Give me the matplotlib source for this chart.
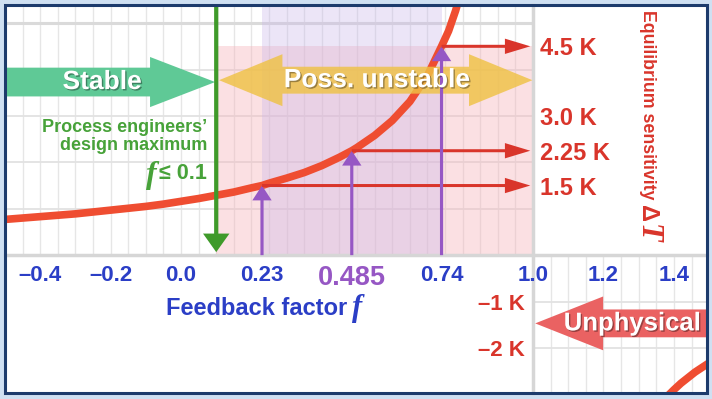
import numpy as np
import matplotlib.pyplot as plt
import matplotlib.patheffects as pe
from matplotlib.patches import Rectangle, Polygon, FancyArrow

# equilibrium sensitivity curve (f, K)
f_curve = [-0.50, -0.45, -0.40, -0.35, -0.30, -0.25, -0.20, -0.15, -0.10, -0.05,
           0.00, 0.05, 0.10, 0.15, 0.20, 0.23, 0.25, 0.30, 0.35, 0.40, 0.45,
           0.485, 0.50, 0.55, 0.60, 0.65, 0.70, 0.74, 0.76, 0.78, 0.80]
dT_curve = [0.77, 0.80, 0.83, 0.86, 0.89, 0.93, 0.97, 1.01, 1.05, 1.10,
            1.16, 1.22, 1.29, 1.36, 1.45, 1.50, 1.55, 1.66, 1.78, 1.93, 2.11,
            2.25, 2.32, 2.58, 2.90, 3.31, 3.87, 4.50, 4.83, 5.27, 5.80]
# the other branch, f > 1
f_neg = [1.36, 1.38, 1.40, 1.42, 1.44, 1.46, 1.48, 1.50]
dT_neg = [-3.22, -3.05, -2.90, -2.76, -2.64, -2.52, -2.42, -2.32]

# marked points
f_marks = [0.23, 0.485, 0.74]
dT_marks = [1.5, 2.25, 4.5]
f_design = 0.1

x_ticks = [-0.4, -0.2, 0.0, 0.23, 0.485, 0.74, 1.0, 1.2, 1.4]
x_labels = ['–0.4', '–0.2', '0.0', '0.23', '0.485', '0.74', '1.0', '1.2', '1.4']
y_right_ticks = [1.5, 2.25, 3.0, 4.5]
y_right_labels = ['1.5 K', '2.25 K', '3.0 K', '4.5 K']
y_left_ticks = [-2, -1]
y_left_labels = ['–2 K', '–1 K']

plt.rcParams['font.family'] = ['Liberation Sans', 'DejaVu Sans']
plt.rcParams['font.weight'] = 'bold'

BLUE = '#2b3ec6'
RED = '#d9352b'
GREEN = '#47a239'
PURPLE = '#9657c4'
CURVE = '#ef4d31'

XL, XR = -0.5, 1.494
YB, YT = -2.97, 5.39

fig = plt.figure(figsize=(7.12, 3.99), dpi=100, facecolor='#cfe0f2')
ax = fig.add_axes([5 / 712, 6 / 399, 702 / 712, 388 / 399])
ax.set_xlim(XL, XR)
ax.set_ylim(YB, YT)
ax.set_facecolor('white')

# grid only in the upper-left and lower-right quadrants
ax.vlines(np.arange(-0.45, 0.99, 0.05), 0, YT, color='#e6e6e6', lw=1, zorder=0)
ax.vlines(np.arange(1.05, 1.49, 0.05), YB, 0, color='#e6e6e6', lw=1, zorder=0)
ax.hlines([1, 2, 3, 4], XL, 1.0, color='#e2e2e2', lw=1.3, zorder=0)
ax.hlines([5], XL, 1.0, color='#dadada', lw=2.2, zorder=0)
ax.hlines([-1, -2], 1.0, XR, color='#e2e2e2', lw=1.3, zorder=0)

# axes lines through the origin of the drawing
for s in ['top', 'right']:
    ax.spines[s].set_visible(False)
ax.spines['bottom'].set_position(('data', 0))
ax.spines['left'].set_position(('data', 1.0))
for s in ['bottom', 'left']:
    ax.spines[s].set_color('#d6d6d6')
    ax.spines[s].set_linewidth(2.5)
    ax.spines[s].set_zorder(1)

# shaded ranges
ax.add_patch(Rectangle((f_design, 0), 1.0 - f_design, dT_marks[2],
                       facecolor='#f6b3bb', alpha=0.4, lw=0, zorder=1))
ax.add_patch(Rectangle((f_marks[0], 0), f_marks[2] - f_marks[0], YT,
                       facecolor='#c9b6ea', alpha=0.35, lw=0, zorder=1))

# curve
ax.plot(f_curve, dT_curve, color=CURVE, lw=5.5, solid_capstyle='butt', zorder=3)
ax.plot(f_neg, dT_neg, color=CURVE, lw=5.5, solid_capstyle='butt', zorder=3)


def fat_arrow(x_tail, x_tip, yc, body, head, head_len, double=False, **kw):
    d = np.sign(x_tip - x_tail)
    hb = x_tip - d * head_len
    if double:
        tb = x_tail + d * head_len
        pts = [(x_tail, yc), (tb, yc + head), (tb, yc + body), (hb, yc + body),
               (hb, yc + head), (x_tip, yc), (hb, yc - head), (hb, yc - body),
               (tb, yc - body), (tb, yc - head)]
    else:
        pts = [(x_tail, yc + body), (hb, yc + body), (hb, yc + head), (x_tip, yc),
               (hb, yc - head), (hb, yc - body), (x_tail, yc - body)]
    return Polygon(pts, closed=True, lw=0, **kw)


shadow = [pe.withSimplePatchShadow(offset=(1, -1), shadow_rgbFace='k', alpha=0.35)]

ax.add_patch(fat_arrow(XL, f_design - 0.003, 3.73, 0.31, 0.54, 0.185,
                       facecolor='#5fc996', zorder=4))
ax.text(-0.224, 3.73, 'Stable', color='white', fontsize=19, ha='center',
        va='center', zorder=6, path_effects=shadow)

ax.add_patch(fat_arrow(f_design + 0.008, 0.998, 3.77, 0.29, 0.56, 0.18, double=True,
                       facecolor='#efc245', alpha=0.82, zorder=4))
ax.text(0.557, 3.77, 'Poss. unstable', color='white', fontsize=19, ha='center',
        va='center', zorder=6, path_effects=shadow)

ax.add_patch(fat_arrow(XR, 1.006, -1.47, 0.30, 0.58, 0.193,
                       facecolor='#ea6262', zorder=4))
ax.text(1.282, -1.47, 'Unphysical', color='white', fontsize=18.5, ha='center',
        va='center', zorder=6, path_effects=shadow)

# design maximum arrow
ax.add_patch(FancyArrow(f_design, YT, 0, 0.065 - YT, width=0.012, head_width=0.075,
                        head_length=0.4, length_includes_head=True,
                        color='#3f9a2a', lw=0, zorder=5))

# purple arrows up to the curve, red arrows across to the axis
for fm, dm in zip(f_marks, dT_marks):
    ax.add_patch(FancyArrow(fm, 0, 0, dm, width=0.009, head_width=0.055,
                            head_length=0.32, length_includes_head=True,
                            color=PURPLE, lw=0, zorder=5))
    ax.add_patch(FancyArrow(fm, dm, 0.992 - fm, 0, width=0.065, head_width=0.33,
                            head_length=0.072, length_includes_head=True,
                            color=RED, lw=0, zorder=5))

# green note
ax.text(0.074, 2.55, 'Process engineers’\ndesign maximum', color=GREEN,
        fontsize=13, ha='right', va='center', linespacing=1.05, zorder=6)
t_le = ax.text(0.074, 1.76, '≤ 0.1', color=GREEN, fontsize=15.5, ha='right',
               va='center', zorder=6)
ax.annotate('f', xy=(0, 0.4), xycoords=t_le, xytext=(-2, 0),
            textcoords='offset points', ha='right', va='center', color=GREEN,
            fontsize=23, family='Liberation Serif', style='italic', weight='bold',
            zorder=6)

# x axis labels
ax.set_xticks(x_ticks)
ax.set_xticklabels(x_labels)
ax.tick_params(axis='x', length=0, pad=7, labelsize=16, labelcolor=BLUE)
for lab, v in zip(ax.get_xticklabels(), x_ticks):
    if v == 0.485:
        lab.set_color(PURPLE)
        lab.set_fontsize(19.5)

t_fb = ax.text(0.215, -1.14, 'Feedback factor', color=BLUE, fontsize=17,
               ha='center', va='center', zorder=6)
ax.annotate('f', xy=(1, 0.5), xycoords=t_fb, xytext=(3, 0),
            textcoords='offset points', ha='left', va='center', color=BLUE,
            fontsize=22, family='Liberation Serif', style='italic', weight='bold')

# y labels on both sides of the f = 1 line
ax.set_yticks(y_left_ticks)
ax.set_yticklabels(y_left_labels)
ax.tick_params(axis='y', length=0, pad=6, labelsize=16, labelcolor=RED)

ax2 = ax.twinx()
ax2.set_ylim(YB, YT)
for s in ax2.spines.values():
    s.set_visible(False)
ax2.spines['right'].set_position(('data', 1.0))
ax2.set_yticks(y_right_ticks)
ax2.set_yticklabels(y_right_labels)
ax2.tick_params(axis='y', length=0, pad=5, labelsize=17, labelcolor=RED)

t_eq = ax.text(1.324, 5.28, 'Equilibrium sensitivity', color=RED, fontsize=12.8,
               rotation=270, ha='center', va='top', zorder=6)
t_d = ax.annotate('Δ', xy=(0.5, 0), xycoords=t_eq, xytext=(0, -4),
                  textcoords='offset points', ha='center', va='top', rotation=270,
                  color=RED, fontsize=17)
ax.annotate('T', xy=(0.5, 0), xycoords=t_d, xytext=(0, -1),
            textcoords='offset points', ha='center', va='top', rotation=270,
            color=RED, fontsize=22, family='Liberation Serif', style='italic',
            weight='bold')

# frame
ax.add_patch(Rectangle((0, 0), 1, 1, transform=ax.transAxes, fill=False,
                       edgecolor='#1d3b6c', lw=2.2, clip_on=False, zorder=10))

plt.savefig('out.png', dpi=100, facecolor=fig.get_facecolor())
